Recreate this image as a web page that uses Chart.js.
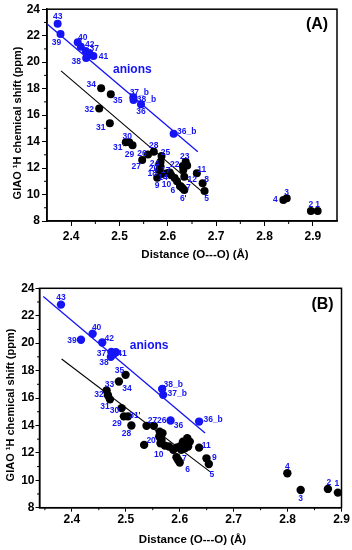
<!DOCTYPE html>
<html><head><meta charset="utf-8">
<script src="https://cdn.jsdelivr.net/npm/chart.js@4.4.0/dist/chart.umd.min.js"></script>
<style>
html,body{margin:0;padding:0;background:#fff;}
#wrap{position:relative;width:352px;height:550px;overflow:hidden;}
canvas{position:absolute;left:0;}
#cA{top:0}
#cB{top:275px}
</style></head><body>
<div id="wrap"><canvas id="cA" width="352" height="275"></canvas><canvas id="cB" width="352" height="275"></canvas></div>
<script>
// ---------- Panel A data ----------
const aXTicks = [2.4, 2.5, 2.6, 2.7, 2.8, 2.9];
const aYTicks = [8, 10, 12, 14, 16, 18, 20, 22, 24];
const aBlackX = [2.910, 2.896, 2.846, 2.839, 2.676, 2.625, 2.634, 2.630, 2.672, 2.578, 2.614, 2.660, 2.634, 2.588, 2.604, 2.582, 2.585, 2.631, 2.637, 2.585, 2.587, 2.559, 2.547, 2.571, 2.527, 2.520, 2.513, 2.480, 2.458, 2.462, 2.482, 2.632, 2.598, 2.607, 2.619, 2.640, 2.583, 2.627];
const aBlackY = [8.76, 8.76, 9.72, 9.59, 10.27, 10.65, 10.34, 10.50, 10.85, 11.27, 11.25, 11.60, 11.35, 11.55, 11.67, 11.85, 12.12, 12.16, 12.48, 12.48, 12.91, 13.03, 12.61, 13.24, 13.72, 13.95, 13.95, 15.38, 16.49, 18.03, 17.58, 11.85, 11.60, 11.45, 11.00, 12.20, 12.30, 10.60];
const aBlackLbl = ['1', '2', '3', '4', '5', '6', "6'", '7', '8', '9', '10', '11', '12', '14', '17', '18', '20', '22', '23', '24', '25', '26', '27', '28', '29', '30', "31'", '31', '32', '34', '35', '', '', '', '', '', '', ''];
const aBlackOff = [[0,-6],[0,-6],[0,-6],[-8,0],[2,8],[-7,5],[-1,9],[6,0],[4,-4],[0,8],[-8,7],[5,-4],[8,3],[1,4],[-4,-2],[-7,4],[-7,2],[-8,-1],[-1,-5],[-6,2],[4,-3],[-6,-1],[-6,7],[0,-6],[-3,9],[-2,-6],[-7,5],[-9,4],[-10,1],[-10,-4],[7,6]];
const aBlueX = [2.372, 2.378, 2.4135, 2.420, 2.430, 2.4375, 2.446, 2.431, 2.5286, 2.529, 2.5445, 2.612];
const aBlueY = [22.91, 22.13, 21.50, 21.17, 20.85, 20.68, 20.47, 20.32, 17.35, 17.15, 16.82, 14.60];
const aBlueLbl = ['43', '39', '40', '', '42', '37', '41', '38', '37_b', '38_b', '36', '36_b'];
const aBlueOff = [[0,-7],[-4,9],[5,-5],[0,0],[4,-6],[5,-4],[10,1],[-10,4],[6,-5],[13,0],[0,7],[13,-2]];
const aBlueLineX = [2.346, 2.662];
const aBlueLineY = [23.02, 13.24];
const aBlackLineX = [2.379, 2.669];
const aBlackLineY = [19.34, 10.27];

// ---------- Panel B data ----------
const bXTicks = [2.4, 2.5, 2.6, 2.7, 2.8, 2.9];
const bYTicks = [8, 10, 12, 14, 16, 18, 20, 22, 24];
const bBlackX = [2.8933, 2.8748, 2.8243, 2.7996, 2.654, 2.600, 2.594, 2.6496, 2.5724, 2.636, 2.534, 2.552, 2.5385, 2.5104, 2.4965, 2.4922, 2.5039, 2.4706, 2.4669, 2.4644, 2.4872, 2.4996, 2.563, 2.568, 2.562, 2.5663, 2.5644, 2.580, 2.588, 2.594, 2.600, 2.606, 2.614, 2.6187, 2.6094, 2.603, 2.6156, 2.597];
const bBlackY = [9.10, 9.37, 9.29, 10.51, 11.19, 11.29, 11.68, 11.60, 12.53, 12.38, 12.58, 13.97, 13.97, 14.00, 14.66, 15.26, 14.66, 15.90, 16.20, 16.55, 17.20, 17.69, 13.55, 13.43, 13.19, 12.94, 12.70, 12.46, 12.22, 12.38, 12.46, 12.82, 13.07, 12.82, 12.34, 12.22, 12.46, 11.48];
const bBlackLbl = ['1', '2', '3', '4', '5', '6', '7', '9', '10', '11', '20', '26', '27', '28', '29', '30', "31'", '31', '32', '33', '34', '35', '', '', '', '', '', '', '', '', '', '', '', '', '', '', '', ''];
const bBlackOff = [[-1,-9],[1,-6],[0,9],[0,-7],[3,11],[8,7],[8,1],[8,-1],[-6,9],[7,-2],[7,-4],[8,-5],[6,-5],[-5,8],[-7,7],[-7,3],[7,-1],[-5,7],[-9,-1],[3,-6],[8,7],[-6,-4]];
const bBlueX = [2.3798, 2.4385, 2.4169, 2.4563, 2.4733, 2.4817, 2.4724, 2.477, 2.5674, 2.5693, 2.583, 2.636];
const bBlueY = [22.81, 20.69, 20.25, 20.05, 19.36, 19.34, 19.00, 19.19, 16.66, 16.23, 14.36, 14.28];
const bBlueLbl = ['43', '40', '39', '42', '37', '41', '38', '', '38_b', '37_b', '36', '36_b'];
const bBlueOff = [[0,-7],[4,-6],[-9,1],[7,-4],[-10,2],[6,1],[-7,6],[0,0],[11,-4],[14,-1],[8,5],[14,-2]];
const bBlueLineX = [2.347, 2.647];
const bBlueLineY = [23.40, 13.45];
const bBlackLineX = [2.381, 2.656];
const bBlackLineY = [18.84, 10.63];

const minorX = [2.35, 2.45, 2.55, 2.65, 2.75, 2.85];
const minorY = [9, 11, 13, 15, 17, 19, 21, 23];
const yTitle = 'GIAO \u00B9H chemical shift (ppm)';
const xTitle = 'Distance (O---O) (\u00C5)';

const FONT = "'Liberation Sans', Arial, Helvetica, sans-serif";
const BLUE = '#1414f5';

function pts(xs, ys){ return xs.map((x,i)=>({x:x, y:ys[i]})); }

function makePanel(canvas, d, L){
  const plugin = {
    id: 'deco',
    beforeDatasetsDraw(chart){
      const a = chart.chartArea, c = chart.ctx;
      c.save();
      c.strokeStyle = '#000'; c.lineWidth = 1.5;
      c.strokeRect(a.left, a.top, a.right - a.left, a.bottom - a.top);
      const xs = chart.scales.x, ys = chart.scales.y;
      c.lineWidth = 1;
      c.beginPath();
      minorX.forEach(v=>{ if (v > xs.min && v < xs.max){ const p = xs.getPixelForValue(v); c.moveTo(p, a.bottom); c.lineTo(p, a.bottom + L.minorLen); }});
      minorY.forEach(v=>{ const p = ys.getPixelForValue(v); c.moveTo(a.left, p); c.lineTo(a.left - L.minorLen, p); });
      c.stroke();
      c.restore();
    },
    afterDatasetsDraw(chart){
      const c = chart.ctx;
      c.save();
      c.fillStyle = BLUE;
      c.font = 'bold ' + L.lblSize + 'px ' + FONT;
      c.textAlign = 'center'; c.textBaseline = 'middle';
      [[0, d.blackLbl, d.blackOff], [1, d.blueLbl, d.blueOff]].forEach(([di, lbls, offs])=>{
        const meta = chart.getDatasetMeta(di);
        meta.data.forEach((el, i)=>{
          if (!lbls[i]) return;
          const o = offs[i];
          c.fillText(lbls[i], el.x + o[0], el.y + o[1]);
        });
      });
      const xs = chart.scales.x, ys = chart.scales.y;
      c.font = 'bold 12px ' + FONT;
      c.fillText('anions', xs.getPixelForValue(L.anions[0]), ys.getPixelForValue(L.anions[1]));
      c.fillStyle = '#000';
      c.font = 'bold 16px ' + FONT;
      c.fillText(L.letter, L.letterPos[0], L.letterPos[1]);
      c.font = 'bold 11.5px ' + FONT;
      c.fillText(xTitle, L.xTitlePos[0], L.xTitlePos[1]);
      c.translate(L.yTitlePos[0], L.yTitlePos[1]);
      c.rotate(-Math.PI/2);
      c.font = 'bold 11px ' + FONT;
      c.fillText(yTitle, 0, 0);
      c.restore();
    }
  };
  return new Chart(canvas, {
    type: 'scatter',
    data: { datasets: [
      { data: pts(d.blackX, d.blackY), backgroundColor: '#000', borderWidth: 0, pointRadius: L.r, pointHoverRadius: L.r },
      { data: pts(d.blueX, d.blueY), backgroundColor: BLUE, borderWidth: 0, pointRadius: L.r, pointHoverRadius: L.r },
      { data: pts(d.blueLineX, d.blueLineY), showLine: true, borderColor: BLUE, borderWidth: 1.3, pointRadius: 0, fill: false },
      { data: pts(d.blackLineX, d.blackLineY), showLine: true, borderColor: '#000', borderWidth: 1.1, pointRadius: 0, fill: false }
    ]},
    options: {
      responsive: false, animation: false, devicePixelRatio: 1,
      layout: { padding: L.pad },
      plugins: { legend: { display: false }, tooltip: { enabled: false } },
      scales: {
        x: { type: 'linear', min: L.xMin, max: L.xMax,
          afterBuildTicks: s => { s.ticks = d.xTicks.map(v=>({value:v})); },
          afterFit: s => { s.height = L.xH; },
          ticks: { color: '#000', font: { family: FONT, size: 12, weight: 'bold' }, padding: L.xPad, maxRotation: 0, callback: v => Number(v).toFixed(1) },
          grid: { drawOnChartArea: false, drawTicks: true, tickLength: L.tick, color: '#000', lineWidth: 1 },
          border: { display: true, color: '#000', width: 1.5 } },
        y: { type: 'linear', min: 8, max: 24,
          afterBuildTicks: s => { s.ticks = d.yTicks.map(v=>({value:v})); },
          afterFit: s => { s.width = L.yW; },
          ticks: { color: '#000', font: { family: FONT, size: 12, weight: 'bold' }, padding: L.yPad, callback: v => String(v) },
          grid: { drawOnChartArea: false, drawTicks: true, tickLength: L.tick, color: '#000', lineWidth: 1 },
          border: { display: true, color: '#000', width: 1.5 } }
      }
    },
    plugins: [plugin]
  });
}

makePanel(document.getElementById('cA'), {
  xTicks: aXTicks, yTicks: aYTicks,
  blackX: aBlackX, blackY: aBlackY, blackLbl: aBlackLbl, blackOff: aBlackOff,
  blueX: aBlueX, blueY: aBlueY, blueLbl: aBlueLbl, blueOff: aBlueOff,
  blueLineX: aBlueLineX, blueLineY: aBlueLineY, blackLineX: aBlackLineX, blackLineY: aBlackLineY
}, { xMin: 2.35, xMax: 2.95, pad: { left: 0, right: 15, top: 9, bottom: 0 }, xH: 54, yW: 47,
     tick: 5, minorLen: 3, xPad: 3, yPad: 2, r: 4, lblSize: 8.5,
     anions: [2.5265, 19.41], letter: '(A)', letterPos: [317, 25],
     xTitlePos: [195, 255], yTitlePos: [17.5, 123] });

makePanel(document.getElementById('cB'), {
  xTicks: bXTicks, yTicks: bYTicks,
  blackX: bBlackX, blackY: bBlackY, blackLbl: bBlackLbl, blackOff: bBlackOff,
  blueX: bBlueX, blueY: bBlueY, blueLbl: bBlueLbl, blueOff: bBlueOff,
  blueLineX: bBlueLineX, blueLineY: bBlueLineY, blackLineX: bBlackLineX, blackLineY: bBlackLineY
}, { xMin: 2.34, xMax: 2.90, pad: { left: 0, right: 10.5, top: 13.3, bottom: 0 }, xH: 42.3, yW: 39.5,
     tick: 4, minorLen: 2.5, xPad: 1, yPad: 1, r: 4.2, lblSize: 8.5,
     anions: [2.5433, 19.81], letter: '(B)', letterPos: [322.5, 30],
     xTitlePos: [192.5, 265], yTitlePos: [10.8, 130] });
</script>
</body></html>
